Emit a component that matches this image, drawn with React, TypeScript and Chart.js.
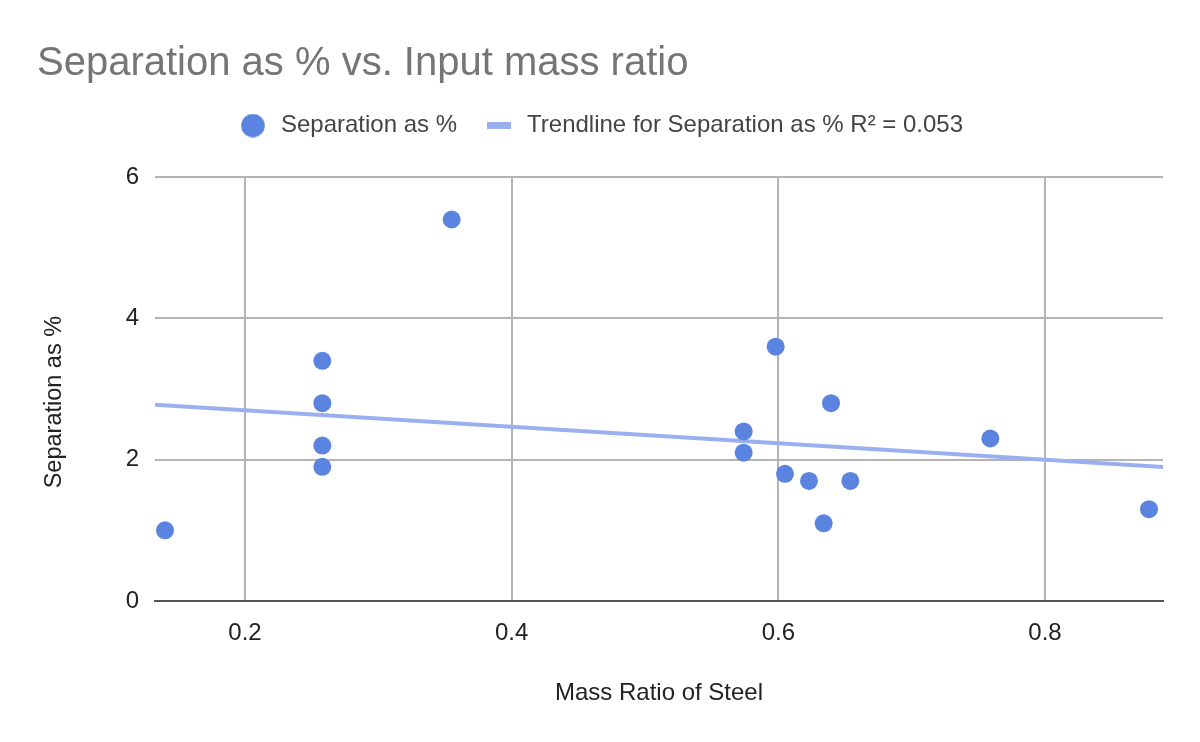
import React, { useEffect, useRef } from 'react';
import { Chart, registerables } from 'chart.js';

Chart.register(...registerables);

// ---- data ----
const massRatio = [0.14, 0.258, 0.258, 0.258, 0.258, 0.355, 0.598, 0.574, 0.574, 0.605, 0.623, 0.6395, 0.634, 0.654, 0.759, 0.878];
const separation = [1.0, 3.4, 2.8, 2.2, 1.9, 5.4, 3.6, 2.4, 2.1, 1.8, 1.7, 2.8, 1.1, 1.7, 2.3, 1.3];
const xTickValues = [0.2, 0.4, 0.6, 0.8];
const yTickValues = [0, 2, 4, 6];
const xRange = [0.1325, 0.8885];
const yRange = [0, 6];

const chartTitle = 'Separation as % vs. Input mass ratio';
const seriesLabel = 'Separation as %';
const trendLabel = 'Trendline for Separation as % R² = 0.053';
const xAxisTitle = 'Mass Ratio of Steel';
const yAxisTitle = 'Separation as %';

const POINT_COLOR = '#5b84e0';
const TREND_COLOR = '#9aaff0';
const GRID_COLOR = '#b4b4b4';
const FONT = "'Liberation Sans', Arial, sans-serif";

// least-squares trendline from the series
function linearFit(xs: number[], ys: number[]) {
  const n = xs.length;
  const mx = xs.reduce((a, b) => a + b, 0) / n;
  const my = ys.reduce((a, b) => a + b, 0) / n;
  let sxy = 0;
  let sxx = 0;
  for (let i = 0; i < n; i++) {
    sxy += (xs[i] - mx) * (ys[i] - my);
    sxx += (xs[i] - mx) * (xs[i] - mx);
  }
  const slope = sxy / sxx;
  return { slope, intercept: my - slope * mx };
}

function makeMarker(w: number, h: number, color: string, round: boolean) {
  const c = document.createElement('canvas');
  c.width = w;
  c.height = h;
  const g = c.getContext('2d')!;
  g.fillStyle = color;
  if (round) {
    g.beginPath();
    g.arc(w / 2, h / 2, Math.min(w, h) / 2 - 0.2, 0, Math.PI * 2);
    g.fill();
  } else {
    g.fillRect(0, 0, w, h);
  }
  return c;
}

export default function App() {
  const ref = useRef<HTMLCanvasElement | null>(null);

  useEffect(() => {
    if (!ref.current) return;
    const fit = linearFit(massRatio, separation);
    const trendData = xRange.map((x) => ({ x, y: fit.intercept + fit.slope * x }));
    const points = massRatio.map((x, i) => ({ x, y: separation[i] }));

    const circleMarker = makeMarker(24, 24, POINT_COLOR, true);
    const rectMarker = makeMarker(24, 7, TREND_COLOR, false);

    const chart = new Chart(ref.current, {
      type: 'scatter',
      data: {
        datasets: [
          {
            type: 'scatter',
            label: seriesLabel,
            data: points,
            backgroundColor: POINT_COLOR,
            borderWidth: 0,
            pointRadius: 9,
            pointHoverRadius: 9,
            order: 0,
          },
          {
            type: 'line',
            label: trendLabel,
            data: trendData,
            borderColor: TREND_COLOR,
            borderWidth: 4,
            pointRadius: 0,
            fill: false,
            order: 1,
          },
        ],
      },
      options: {
        responsive: false,
        animation: false,
        layout: { padding: { left: 37, right: 37, top: 0, bottom: 0 } },
        plugins: {
          tooltip: { enabled: false },
          title: {
            display: true,
            text: chartTitle,
            align: 'start',
            color: '#757575',
            font: { family: FONT, size: 40, weight: 'normal', lineHeight: 1 },
            padding: { top: 44, bottom: 3.6 },
          },
          legend: {
            display: true,
            position: 'top',
            align: 'center',
            labels: {
              usePointStyle: true,
              pointStyleWidth: 32,
              padding: 26,
              color: '#444444',
              font: { family: FONT, size: 24 },
              generateLabels: () => [
                {
                  text: seriesLabel,
                  pointStyle: circleMarker as any,
                  fillStyle: POINT_COLOR,
                  strokeStyle: 'rgba(0,0,0,0)',
                  lineWidth: 0,
                  fontColor: '#444444',
                  hidden: false,
                  datasetIndex: 0,
                },
                {
                  text: trendLabel,
                  pointStyle: rectMarker as any,
                  fillStyle: TREND_COLOR,
                  strokeStyle: 'rgba(0,0,0,0)',
                  lineWidth: 0,
                  fontColor: '#444444',
                  hidden: false,
                  datasetIndex: 1,
                },
              ],
            },
          },
        },
        scales: {
          x: {
            type: 'linear',
            position: 'bottom',
            min: xRange[0],
            max: xRange[1],
            afterBuildTicks: (s: any) => {
              s.ticks = xTickValues.map((v) => ({ value: v }));
            },
            afterFit: (s: any) => {
              s.height = 141;
            },
            grid: { color: GRID_COLOR, lineWidth: 2, drawTicks: false },
            border: { display: true, color: '#555555', width: 2 },
            ticks: {
              padding: 18,
              color: '#222222',
              font: { family: FONT, size: 24 },
              callback: (v: any) => Number(v).toFixed(1),
            },
            title: {
              display: true,
              text: xAxisTitle,
              color: '#222222',
              font: { family: FONT, size: 24 },
              padding: { top: 0, bottom: 34 },
            },
          },
          spacer: {
            type: 'linear',
            position: 'top',
            display: true,
            grid: { display: false, drawTicks: false },
            border: { display: false },
            ticks: { display: false },
            afterFit: (s: any) => {
              s.height = 29.5;
            },
          },
          y: {
            type: 'linear',
            position: 'left',
            min: yRange[0],
            max: yRange[1],
            afterBuildTicks: (s: any) => {
              s.ticks = yTickValues.map((v) => ({ value: v }));
            },
            afterFit: (s: any) => {
              s.width = 118;
            },
            grid: {
              color: (ctx: any) => (ctx.tick && ctx.tick.value === 0 ? '#555555' : GRID_COLOR),
              lineWidth: 2,
              drawTicks: false,
            },
            border: { display: false },
            ticks: {
              padding: 16,
              color: '#222222',
              font: { family: FONT, size: 24 },
              callback: (v: any) => String(v),
            },
            title: {
              display: true,
              text: yAxisTitle + '    ',
              color: '#222222',
              font: { family: FONT, size: 23.5 },
              padding: { top: 3, bottom: 0 },
            },
          },
        },
      } as any,
    });
    return () => chart.destroy();
  }, []);

  return (
    <div style={{ position: 'fixed', left: 0, top: 0, width: 1200, height: 742, background: '#ffffff' }}>
      <canvas ref={ref} width={1200} height={742} style={{ display: 'block' }} />
    </div>
  );
}
